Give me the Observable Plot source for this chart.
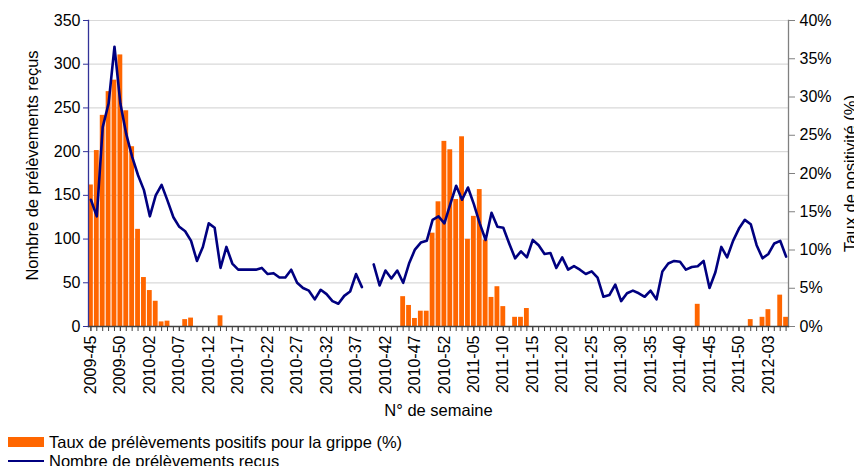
<!DOCTYPE html>
<html><head><meta charset="utf-8">
<script src="https://cdn.jsdelivr.net/npm/d3@7"></script>
<script src="https://cdn.jsdelivr.net/npm/@observablehq/plot@0.6"></script>
<style>
html,body{margin:0;padding:0;background:#fff;overflow:hidden;width:854px;height:466px}
body{font-family:"Liberation Sans",Arial,sans-serif;position:relative}
#legend{position:absolute;left:0;top:430px;width:854px;height:40px;font-size:16.5px;color:#000}
.item{position:absolute;left:8px;height:16px;display:flex;align-items:center;white-space:nowrap}
.sw{display:inline-block;width:36px;margin-right:5px}
</style></head><body><div id="chart"></div>
<div id="legend">
  <div class="item" style="top:4px"><span class="sw" style="height:10px;background:#FF6600"></span>Taux de prélèvements positifs pour la grippe (%)</div>
  <div class="item" style="top:23px"><span class="sw" style="height:2px;background:#000080"></span>Nombre de prélèvements reçus</div>
</div>
<script>
// ISO weeks shown on the x axis: [year, first week, last week]
const yearWeeks = [[2009, 45, 53], [2010, 1, 52], [2011, 1, 52], [2012, 1, 6]];
const weeks = [];
for (const [yr, a, b] of yearWeeks) for (let w = a; w <= b; w++) weeks.push(`${yr}-${String(w).padStart(2, "0")}`);

// Nombre de prélèvements reçus (left axis)
const counts = [
  145,126,228,255,320,255,220,194,173,156,
  126,150,162,144,125,114,109,98,75,91,
  118,113,67,91,72,65,65,65,65,67,
  60,61,56,56,65,50,44,41,31,42,
  37,29,26,35,40,60,45,null,71,47,
  64,55,64,50,72,88,96,98,122,126,
  118,140,161,145,159,140,118,99,130,114,
  113,95,78,86,79,99,93,83,84,67,
  79,65,69,65,60,63,56,34,36,48,
  29,38,41,38,34,41,31,63,72,75,
  74,65,68,69,75,44,62,91,79,98,
  112,122,117,93,78,83,95,98,80
];

// Taux de prélèvements positifs pour la grippe, % (right axis)
const positivity = [
  18.5,23.0,27.6,30.7,32.2,35.5,28.2,23.5,12.7,6.4,
  4.7,3.3,0.6,0.7,0,0,0.9,1.1,0,0,
  0,0,1.4,0,0,0,0,0,0,0,
  0,0,0,0,0,0,0,0,0,0,
  0,0,0,0,0,0,0,0,0,0,
  0,0,0,3.9,2.75,1.05,2.0,2.0,12.2,16.3,
  24.2,23.1,16.6,24.8,11.4,14.4,17.9,11.3,3.8,5.2,
  2.6,0,1.2,1.2,2.35,0,0,0,0,0,
  0,0,0,0,0,0,0,0,0,0,
  0,0,0,0,0,0,0,0,0,0,
  0,0,0,2.9,0,0,0,0,0,0,
  0,0,0.9,0,1.2,2.2,0,4.1,1.2
];

const leftTicks = [0, 50, 100, 150, 200, 250, 300, 350];
const rightTicks = [0, 5, 10, 15, 20, 25, 30, 35, 40];
const labelWeeks = weeks.filter((d, i) => i % 5 === 0);

const k = 350 / 40; // % -> left-axis units
const data = weeks.map((w, i) => ({week: w, count: counts[i], pct: positivity[i]}));

const chart = Plot.plot({
  width: 854, height: 430,
  marginLeft: 88, marginRight: 66, marginTop: 20, marginBottom: 104,
  style: {fontFamily: '"Liberation Sans", Arial, sans-serif', fontSize: "16px", color: "#000", background: "#fff"},
  x: {type: "band", domain: weeks, paddingInner: 0.18, paddingOuter: 0, align: 0.5},
  y: {domain: [0, 350]},
  marks: [
    Plot.gridY(leftTicks.slice(1), {stroke: "#d9d9d9", strokeOpacity: 1, strokeWidth: 1.2}),
    Plot.barY(data, {x: "week", y: d => d.pct * k, fill: "#FF6600"}),
    Plot.lineY(data, {x: "week", y: "count", stroke: "#000080", strokeWidth: 2.6, strokeLinejoin: "round"}),
    Plot.frame({anchor: "left", stroke: "#333399", strokeWidth: 1.3}),
    Plot.frame({anchor: "right", stroke: "#808080", strokeWidth: 1.3}),
    Plot.frame({anchor: "bottom", stroke: "#404040", strokeWidth: 1.5}),
    Plot.axisX({ticks: weeks, tickSize: 5, tickFormat: () => "", stroke: "#404040", label: null}),
    Plot.axisX({ticks: labelWeeks, tickSize: 5, tickPadding: 4, tickRotate: -90, stroke: "#404040", label: null, fontSize: 16}),
    Plot.axisY({ticks: leftTicks, anchor: "left", tickSize: 5, tickPadding: 3, stroke: "#333399", label: null, fontSize: 16}),
    Plot.axisY({ticks: rightTicks.map(t => t * k), anchor: "right", tickSize: 6, tickPadding: 5,
      tickFormat: d => Math.round(d / k) + "%", stroke: "#808080", label: null, fontSize: 16}),
    Plot.text(["N° de semaine"], {frameAnchor: "bottom", dy: 89, fontSize: 16.5}),
    Plot.text(["Nombre de prélèvements reçus"], {frameAnchor: "left", dx: -56, dy: -8, rotate: -90, textAnchor: "middle", fontSize: 16.5}),
    Plot.text(["Taux de positivité (%)"], {frameAnchor: "right", dx: 62, rotate: -90, textAnchor: "middle", fontSize: 16.5})
  ]
});
document.getElementById("chart").appendChild(chart);
</script>
</body></html>
